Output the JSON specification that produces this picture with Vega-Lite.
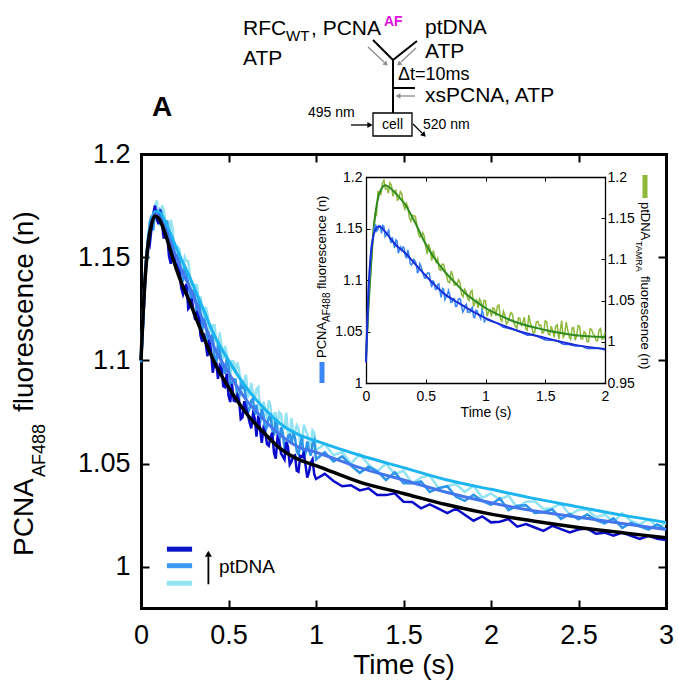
{
"$schema": "https://vega.github.io/schema/vega-lite/v6.json",
"width": 678, "height": 688, "autosize": "none", "padding": 0, "background": "white",
"config": {"font": "Liberation Sans", "view": {"stroke": null},
  "axis": {"grid": false, "labelColor": "black", "titleColor": "black", "tickColor": "black", "domainColor": "black", "titleFontWeight": "normal", "labelFlush": false, "labelOverlap": false, "domainCap": "square"}},
"datasets": {
"d3": [{"t":0,"v":1.100},{"t":0.02,"v":1.138},{"t":0.04,"v":1.162},{"t":0.06,"v":1.166},{"t":0.08,"v":1.175},{"t":0.1,"v":1.168},{"t":0.12,"v":1.175},{"t":0.14,"v":1.167},{"t":0.16,"v":1.161},{"t":0.18,"v":1.164},{"t":0.2,"v":1.154},{"t":0.22,"v":1.154},{"t":0.24,"v":1.144},{"t":0.26,"v":1.148},{"t":0.28,"v":1.141},{"t":0.3,"v":1.1337},{"t":0.32,"v":1.1364},{"t":0.34,"v":1.131},{"t":0.36,"v":1.120},{"t":0.38,"v":1.122},{"t":0.4,"v":1.114},{"t":0.42,"v":1.117},{"t":0.44,"v":1.106},{"t":0.46,"v":1.107},{"t":0.48,"v":1.107},{"t":0.5,"v":1.095},{"t":0.52,"v":1.0996},{"t":0.54,"v":1.0942},{"t":0.56,"v":1.0958},{"t":0.58,"v":1.0864},{"t":0.6,"v":1.093},{"t":0.62,"v":1.084},{"t":0.64,"v":1.084},{"t":0.66,"v":1.086},{"t":0.68,"v":1.077},{"t":0.7,"v":1.080},{"t":0.72,"v":1.0714},{"t":0.74,"v":1.0778},{"t":0.76,"v":1.0742},{"t":0.78,"v":1.0676},{"t":0.8,"v":1.074},{"t":0.82,"v":1.067},{"t":0.84,"v":1.065},{"t":0.86,"v":1.072},{"t":0.88,"v":1.065},{"t":0.9,"v":1.067},{"t":0.92,"v":1.0603},{"t":0.94,"v":1.0665},{"t":0.96,"v":1.0608},{"t":0.98,"v":1.066},{"t":1.0,"v":1.0565},
{"t":0.01,"v":1.121},{"t":0.03,"v":1.143},{"t":0.05,"v":1.166},{"t":0.07,"v":1.168},{"t":0.09,"v":1.1775},{"t":0.11,"v":1.165},{"t":0.13,"v":1.173},{"t":0.15,"v":1.1641},{"t":0.17,"v":1.1681},{"t":0.19,"v":1.154},{"t":0.21,"v":1.155},{"t":0.23,"v":1.1455},{"t":0.25,"v":1.150},{"t":0.27,"v":1.148},{"t":0.29,"v":1.1329},{"t":0.31,"v":1.1366},{"t":0.33,"v":1.1272},{"t":0.35,"v":1.124},{"t":0.37,"v":1.126},{"t":0.39,"v":1.113},{"t":0.41,"v":1.117},{"t":0.43,"v":1.1095},{"t":0.45,"v":1.1135},{"t":0.47,"v":1.1005},{"t":0.49,"v":1.1035},{"t":0.51,"v":1.0928},{"t":0.53,"v":1.0994},{"t":0.55,"v":1.099},{"t":0.57,"v":1.0886},{"t":0.59,"v":1.0902},{"t":0.61,"v":1.082},{"t":0.63,"v":1.089},{"t":0.65,"v":1.081},{"t":0.67,"v":1.087},{"t":0.69,"v":1.075},{"t":0.71,"v":1.0762},{"t":0.73,"v":1.0806},{"t":0.75,"v":1.068},{"t":0.77,"v":1.0744},{"t":0.79,"v":1.0748},{"t":0.81,"v":1.0665},{"t":0.83,"v":1.0745},{"t":0.85,"v":1.0625},{"t":0.87,"v":1.0645},{"t":0.89,"v":1.0685},{"t":0.91,"v":1.0587},{"t":0.93,"v":1.0689},{"t":0.95,"v":1.0642},{"t":0.97,"v":1.0584},{"t":0.99,"v":1.0648},
{"t":1.05,"v":1.0595},{"t":1.1,"v":1.054},{"t":1.15,"v":1.0555},{"t":1.2,"v":1.050},{"t":1.25,"v":1.0545},{"t":1.3,"v":1.0495},{"t":1.35,"v":1.0462},{"t":1.4,"v":1.050},{"t":1.45,"v":1.0448},{"t":1.5,"v":1.0465},{"t":1.55,"v":1.0404},{"t":1.6,"v":1.0433},{"t":1.65,"v":1.0442},{"t":1.7,"v":1.0381},{"t":1.75,"v":1.039},{"t":1.8,"v":1.0401},{"t":1.85,"v":1.0362},{"t":1.9,"v":1.0393},{"t":1.95,"v":1.0334},{"t":2.0,"v":1.0355},{"t":2.05,"v":1.0325},{"t":2.1,"v":1.0345},{"t":2.15,"v":1.0285},{"t":2.2,"v":1.0315},{"t":2.25,"v":1.0317},{"t":2.3,"v":1.028},{"t":2.35,"v":1.0284},{"t":2.4,"v":1.0307},{"t":2.45,"v":1.0251},{"t":2.5,"v":1.0275},{"t":2.55,"v":1.0277},{"t":2.6,"v":1.024},{"t":2.65,"v":1.0253},{"t":2.7,"v":1.0216},{"t":2.75,"v":1.0259},{"t":2.8,"v":1.0222},{"t":2.85,"v":1.0205},{"t":2.9,"v":1.023},{"t":2.95,"v":1.0195},{"t":3.0,"v":1.021}],
"d2": [{"t":0,"v":1.099},{"t":0.02,"v":1.137},{"t":0.04,"v":1.152},{"t":0.06,"v":1.170},{"t":0.08,"v":1.172},{"t":0.1,"v":1.166},{"t":0.12,"v":1.171},{"t":0.14,"v":1.162},{"t":0.16,"v":1.1565},{"t":0.18,"v":1.160},{"t":0.2,"v":1.1495},{"t":0.22,"v":1.148},{"t":0.24,"v":1.1385},{"t":0.26,"v":1.1415},{"t":0.28,"v":1.1325},{"t":0.3,"v":1.1342},{"t":0.32,"v":1.1209},{"t":0.34,"v":1.1225},{"t":0.36,"v":1.1205},{"t":0.38,"v":1.1105},{"t":0.4,"v":1.1115},{"t":0.42,"v":1.1015},{"t":0.44,"v":1.1075},{"t":0.46,"v":1.0985},{"t":0.48,"v":1.0935},{"t":0.5,"v":1.0975},{"t":0.52,"v":1.0891},{"t":0.54,"v":1.0907},{"t":0.56,"v":1.0813},{"t":0.58,"v":1.0869},{"t":0.6,"v":1.0815},{"t":0.62,"v":1.0765},{"t":0.64,"v":1.0815},{"t":0.66,"v":1.0785},{"t":0.68,"v":1.0695},{"t":0.7,"v":1.0735},{"t":0.72,"v":1.0679},{"t":0.74,"v":1.0733},{"t":0.76,"v":1.0637},{"t":0.78,"v":1.0661},{"t":0.8,"v":1.0675},{"t":0.82,"v":1.0575},{"t":0.84,"v":1.0635},{"t":0.86,"v":1.0595},{"t":0.88,"v":1.0625},{"t":0.9,"v":1.0545},{"t":0.92,"v":1.0628},{"t":0.94,"v":1.055},{"t":0.96,"v":1.0563},{"t":0.98,"v":1.0595},{"t":1.0,"v":1.052},
{"t":0.01,"v":1.114},{"t":0.03,"v":1.1455},{"t":0.05,"v":1.167},{"t":0.07,"v":1.163},{"t":0.09,"v":1.1725},{"t":0.11,"v":1.1725},{"t":0.13,"v":1.1625},{"t":0.15,"v":1.1678},{"t":0.17,"v":1.1523},{"t":0.19,"v":1.1507},{"t":0.21,"v":1.1513},{"t":0.23,"v":1.1382},{"t":0.25,"v":1.1455},{"t":0.27,"v":1.1375},{"t":0.29,"v":1.1284},{"t":0.31,"v":1.1311},{"t":0.33,"v":1.1297},{"t":0.35,"v":1.1145},{"t":0.37,"v":1.1175},{"t":0.39,"v":1.1085},{"t":0.41,"v":1.1125},{"t":0.43,"v":1.098},{"t":0.45,"v":1.105},{"t":0.47,"v":1.096},{"t":0.49,"v":1.101},{"t":0.51,"v":1.0883},{"t":0.53,"v":1.0909},{"t":0.55,"v":1.0825},{"t":0.57,"v":1.0881},{"t":0.59,"v":1.0877},{"t":0.61,"v":1.0745},{"t":0.63,"v":1.0805},{"t":0.65,"v":1.0735},{"t":0.67,"v":1.0725},{"t":0.69,"v":1.0765},{"t":0.71,"v":1.0657},{"t":0.73,"v":1.0721},{"t":0.75,"v":1.0665},{"t":0.77,"v":1.0719},{"t":0.79,"v":1.0603},{"t":0.81,"v":1.065},{"t":0.83,"v":1.056},{"t":0.85,"v":1.064},{"t":0.87,"v":1.065},{"t":0.89,"v":1.056},{"t":0.91,"v":1.0592},{"t":0.93,"v":1.0524},{"t":0.95,"v":1.0607},{"t":0.97,"v":1.0539},{"t":0.99,"v":1.0613},
{"t":1.05,"v":1.0555},{"t":1.1,"v":1.051},{"t":1.15,"v":1.0535},{"t":1.2,"v":1.049},{"t":1.25,"v":1.0455},{"t":1.3,"v":1.0485},{"t":1.35,"v":1.0463},{"t":1.4,"v":1.042},{"t":1.45,"v":1.0458},{"t":1.5,"v":1.0405},{"t":1.55,"v":1.0404},{"t":1.6,"v":1.0413},{"t":1.65,"v":1.0362},{"t":1.7,"v":1.0381},{"t":1.75,"v":1.039},{"t":1.8,"v":1.0339},{"t":1.85,"v":1.0319},{"t":1.9,"v":1.0349},{"t":1.95,"v":1.0319},{"t":2.0,"v":1.030},{"t":2.05,"v":1.0332},{"t":2.1,"v":1.0274},{"t":2.15,"v":1.0296},{"t":2.2,"v":1.0298},{"t":2.25,"v":1.026},{"t":2.3,"v":1.0264},{"t":2.35,"v":1.0278},{"t":2.4,"v":1.0232},{"t":2.45,"v":1.0256},{"t":2.5,"v":1.023},{"t":2.55,"v":1.0253},{"t":2.6,"v":1.0226},{"t":2.65,"v":1.021},{"t":2.7,"v":1.0234},{"t":2.75,"v":1.0188},{"t":2.8,"v":1.0212},{"t":2.85,"v":1.0196},{"t":2.9,"v":1.018},{"t":2.95,"v":1.0205},{"t":3.0,"v":1.018}],
"d1": [{"t":0,"v":1.101},{"t":0.02,"v":1.131},{"t":0.04,"v":1.158},{"t":0.06,"v":1.164},{"t":0.08,"v":1.175},{"t":0.1,"v":1.166},{"t":0.12,"v":1.166},{"t":0.14,"v":1.165},{"t":0.16,"v":1.1505},{"t":0.18,"v":1.152},{"t":0.2,"v":1.144},{"t":0.22,"v":1.143},{"t":0.24,"v":1.132},{"t":0.26,"v":1.137},{"t":0.28,"v":1.126},{"t":0.3,"v":1.1237},{"t":0.32,"v":1.1234},{"t":0.34,"v":1.112},{"t":0.36,"v":1.113},{"t":0.38,"v":1.102},{"t":0.4,"v":1.105},{"t":0.42,"v":1.099},{"t":0.44,"v":1.091},{"t":0.46,"v":1.096},{"t":0.48,"v":1.087},{"t":0.5,"v":1.083},{"t":0.52,"v":1.0886},{"t":0.54,"v":1.0802},{"t":0.56,"v":1.0808},{"t":0.58,"v":1.0724},{"t":0.6,"v":1.077},{"t":0.62,"v":1.070},{"t":0.64,"v":1.074},{"t":0.66,"v":1.063},{"t":0.68,"v":1.067},{"t":0.7,"v":1.067},{"t":0.72,"v":1.0594},{"t":0.74,"v":1.0628},{"t":0.76,"v":1.0552},{"t":0.78,"v":1.0626},{"t":0.8,"v":1.055},{"t":0.82,"v":1.052},{"t":0.84,"v":1.058},{"t":0.86,"v":1.051},{"t":0.88,"v":1.054},{"t":0.9,"v":1.046},{"t":0.92,"v":1.0533},{"t":0.94,"v":1.0495},{"t":0.96,"v":1.0458},{"t":0.98,"v":1.052},{"t":1.0,"v":1.0425},
{"t":0.01,"v":1.1155},{"t":0.03,"v":1.1495},{"t":0.05,"v":1.156},{"t":0.07,"v":1.171},{"t":0.09,"v":1.1685},{"t":0.11,"v":1.173},{"t":0.13,"v":1.159},{"t":0.15,"v":1.1603},{"t":0.17,"v":1.1468},{"t":0.19,"v":1.1505},{"t":0.21,"v":1.1475},{"t":0.23,"v":1.135},{"t":0.25,"v":1.135},{"t":0.27,"v":1.125},{"t":0.29,"v":1.1299},{"t":0.31,"v":1.1196},{"t":0.33,"v":1.1232},{"t":0.35,"v":1.109},{"t":0.37,"v":1.108},{"t":0.39,"v":1.110},{"t":0.41,"v":1.094},{"t":0.43,"v":1.0985},{"t":0.45,"v":1.0975},{"t":0.47,"v":1.0875},{"t":0.49,"v":1.0935},{"t":0.51,"v":1.0798},{"t":0.53,"v":1.0804},{"t":0.55,"v":1.083},{"t":0.57,"v":1.0716},{"t":0.59,"v":1.0802},{"t":0.61,"v":1.074},{"t":0.63,"v":1.067},{"t":0.65,"v":1.072},{"t":0.67,"v":1.073},{"t":0.69,"v":1.060},{"t":0.71,"v":1.0652},{"t":0.73,"v":1.0586},{"t":0.75,"v":1.065},{"t":0.77,"v":1.0524},{"t":0.79,"v":1.0608},{"t":0.81,"v":1.0535},{"t":0.83,"v":1.0605},{"t":0.85,"v":1.0495},{"t":0.87,"v":1.0535},{"t":0.89,"v":1.0465},{"t":0.91,"v":1.0537},{"t":0.93,"v":1.0549},{"t":0.95,"v":1.0432},{"t":0.97,"v":1.0504},{"t":0.99,"v":1.0448},
{"t":1.05,"v":1.045},{"t":1.1,"v":1.0415},{"t":1.15,"v":1.039},{"t":1.2,"v":1.0395},{"t":1.25,"v":1.037},{"t":1.3,"v":1.038},{"t":1.35,"v":1.0348},{"t":1.4,"v":1.0347},{"t":1.45,"v":1.0356},{"t":1.5,"v":1.0315},{"t":1.55,"v":1.0314},{"t":1.6,"v":1.0283},{"t":1.65,"v":1.0302},{"t":1.7,"v":1.0281},{"t":1.75,"v":1.026},{"t":1.8,"v":1.0281},{"t":1.85,"v":1.0252},{"t":1.9,"v":1.0223},{"t":1.95,"v":1.0244},{"t":2.0,"v":1.0215},{"t":2.05,"v":1.0218},{"t":2.1,"v":1.0231},{"t":2.15,"v":1.0194},{"t":2.2,"v":1.0207},{"t":2.25,"v":1.019},{"t":2.3,"v":1.0174},{"t":2.35,"v":1.0198},{"t":2.4,"v":1.0182},{"t":2.45,"v":1.0166},{"t":2.5,"v":1.018},{"t":2.55,"v":1.0185},{"t":2.6,"v":1.016},{"t":2.65,"v":1.0165},{"t":2.7,"v":1.015},{"t":2.75,"v":1.0165},{"t":2.8,"v":1.015},{"t":2.85,"v":1.0135},{"t":2.9,"v":1.015},{"t":2.95,"v":1.0135},{"t":3.0,"v":1.013}],
"f1": [{"t":0,"v":1.100},{"t":0.02,"v":1.135},{"t":0.04,"v":1.156},{"t":0.06,"v":1.166},{"t":0.08,"v":1.170},{"t":0.1,"v":1.169},{"t":0.14,"v":1.161},{"t":0.18,"v":1.150},{"t":0.22,"v":1.140},{"t":0.28,"v":1.128},{"t":0.35,"v":1.113},{"t":0.42,"v":1.099},{"t":0.5,"v":1.087},{"t":0.6,"v":1.0745},{"t":0.7,"v":1.065},{"t":0.8,"v":1.057},{"t":0.9,"v":1.052},{"t":1.0,"v":1.049},{"t":1.25,"v":1.041},{"t":1.5,"v":1.0355},{"t":1.75,"v":1.030},{"t":2.0,"v":1.0255},{"t":2.25,"v":1.022},{"t":2.5,"v":1.019},{"t":2.75,"v":1.0165},{"t":3.0,"v":1.014}],
"f2": [{"t":0,"v":1.100},{"t":0.02,"v":1.135},{"t":0.04,"v":1.157},{"t":0.06,"v":1.167},{"t":0.08,"v":1.171},{"t":0.1,"v":1.170},{"t":0.14,"v":1.164},{"t":0.18,"v":1.155},{"t":0.22,"v":1.146},{"t":0.28,"v":1.135},{"t":0.35,"v":1.120},{"t":0.42,"v":1.106},{"t":0.5,"v":1.094},{"t":0.6,"v":1.081},{"t":0.7,"v":1.0715},{"t":0.8,"v":1.0635},{"t":0.9,"v":1.058},{"t":1.0,"v":1.0555},{"t":1.25,"v":1.048},{"t":1.5,"v":1.042},{"t":1.75,"v":1.036},{"t":2.0,"v":1.031},{"t":2.25,"v":1.027},{"t":2.5,"v":1.024},{"t":2.75,"v":1.021},{"t":3.0,"v":1.018}],
"f3": [{"t":0,"v":1.100},{"t":0.02,"v":1.136},{"t":0.04,"v":1.158},{"t":0.06,"v":1.168},{"t":0.08,"v":1.172},{"t":0.1,"v":1.172},{"t":0.14,"v":1.167},{"t":0.18,"v":1.159},{"t":0.22,"v":1.151},{"t":0.28,"v":1.140},{"t":0.35,"v":1.126},{"t":0.42,"v":1.112},{"t":0.5,"v":1.100},{"t":0.6,"v":1.087},{"t":0.7,"v":1.077},{"t":0.8,"v":1.069},{"t":0.9,"v":1.064},{"t":1.0,"v":1.061},{"t":1.25,"v":1.054},{"t":1.5,"v":1.048},{"t":1.75,"v":1.042},{"t":2.0,"v":1.0375},{"t":2.25,"v":1.033},{"t":2.5,"v":1.029},{"t":2.75,"v":1.025},{"t":3.0,"v":1.0215}],
"bd": [{"t":0,"v":1.022},{"t":0.02,"v":1.086},{"t":0.04,"v":1.127},{"t":0.06,"v":1.140},{"t":0.08,"v":1.154},{"t":0.1,"v":1.149},{"t":0.12,"v":1.1525},{"t":0.14,"v":1.153},{"t":0.16,"v":1.142},{"t":0.18,"v":1.146},{"t":0.2,"v":1.140},{"t":0.22,"v":1.1415},{"t":0.24,"v":1.131},{"t":0.26,"v":1.138},{"t":0.28,"v":1.129},{"t":0.3,"v":1.129},{"t":0.32,"v":1.131},{"t":0.34,"v":1.1215},{"t":0.36,"v":1.124},{"t":0.38,"v":1.1145},{"t":0.4,"v":1.120},{"t":0.42,"v":1.1155},{"t":0.44,"v":1.108},{"t":0.46,"v":1.1135},{"t":0.48,"v":1.105},{"t":0.5,"v":1.1015},{"t":0.52,"v":1.107},{"t":0.54,"v":1.098},{"t":0.56,"v":1.099},{"t":0.58,"v":1.091},{"t":0.6,"v":1.0955},{"t":0.62,"v":1.088},{"t":0.64,"v":1.092},{"t":0.66,"v":1.081},{"t":0.68,"v":1.0855},{"t":0.7,"v":1.086},{"t":0.72,"v":1.0785},{"t":0.74,"v":1.082},{"t":0.76,"v":1.0745},{"t":0.78,"v":1.082},{"t":0.8,"v":1.0745},{"t":0.82,"v":1.071},{"t":0.84,"v":1.0765},{"t":0.86,"v":1.069},{"t":0.88,"v":1.072},{"t":0.9,"v":1.064},{"t":0.92,"v":1.0708},{"t":0.94,"v":1.0665},{"t":0.96,"v":1.0623},{"t":0.98,"v":1.068},{"t":1.0,"v":1.061},
{"t":0.01,"v":1.057},{"t":0.03,"v":1.1015},{"t":0.05,"v":1.1365},{"t":0.07,"v":1.1505},{"t":0.09,"v":1.1475},{"t":0.11,"v":1.1528},{"t":0.13,"v":1.1453},{"t":0.15,"v":1.152},{"t":0.17,"v":1.1435},{"t":0.19,"v":1.1485},{"t":0.21,"v":1.1358},{"t":0.23,"v":1.1357},{"t":0.25,"v":1.139},{"t":0.27,"v":1.126},{"t":0.29,"v":1.132},{"t":0.31,"v":1.132},{"t":0.33,"v":1.1228},{"t":0.35,"v":1.1293},{"t":0.37,"v":1.1158},{"t":0.39,"v":1.1163},{"t":0.41,"v":1.1188},{"t":0.43,"v":1.1073},{"t":0.45,"v":1.1158},{"t":0.47,"v":1.1093},{"t":0.49,"v":1.1018},{"t":0.51,"v":1.1063},{"t":0.53,"v":1.1065},{"t":0.55,"v":1.093},{"t":0.57,"v":1.098},{"t":0.59,"v":1.0908},{"t":0.61,"v":1.0963},{"t":0.63,"v":1.083},{"t":0.65,"v":1.091},{"t":0.67,"v":1.0833},{"t":0.69,"v":1.0898},{"t":0.71,"v":1.0783},{"t":0.73,"v":1.0818},{"t":0.75,"v":1.0743},{"t":0.77,"v":1.0808},{"t":0.79,"v":1.0813},{"t":0.81,"v":1.0688},{"t":0.83,"v":1.0753},{"t":0.85,"v":1.0688},{"t":0.87,"v":1.0685},{"t":0.89,"v":1.0735},{"t":0.91,"v":1.0634},{"t":0.93,"v":1.0702},{"t":0.95,"v":1.0649},{"t":0.97,"v":1.0707},{"t":0.99,"v":1.0594}],
"bl": [{"t":1.0,"v":1.062},{"t":1.05,"v":1.0597},{"t":1.1,"v":1.0584},{"t":1.15,"v":1.0541},{"t":1.2,"v":1.0528},{"t":1.25,"v":1.0515},{"t":1.3,"v":1.0489},{"t":1.35,"v":1.0464},{"t":1.4,"v":1.0468},{"t":1.45,"v":1.0443},{"t":1.5,"v":1.0417},{"t":1.55,"v":1.0414},{"t":1.6,"v":1.041},{"t":1.65,"v":1.0377},{"t":1.7,"v":1.0373},{"t":1.75,"v":1.036},{"t":1.8,"v":1.0362},{"t":1.85,"v":1.0334},{"t":1.9,"v":1.0336},{"t":1.95,"v":1.0338},{"t":2.0,"v":1.032}],
"bf": [{"t":0,"v":1.020},{"t":0.02,"v":1.090},{"t":0.04,"v":1.125},{"t":0.06,"v":1.142},{"t":0.08,"v":1.149},{"t":0.1,"v":1.152},{"t":0.12,"v":1.1515},{"t":0.16,"v":1.147},{"t":0.2,"v":1.141},{"t":0.25,"v":1.134},{"t":0.33,"v":1.126},{"t":0.4,"v":1.117},{"t":0.55,"v":1.098},{"t":0.65,"v":1.087},{"t":0.77,"v":1.078},{"t":0.9,"v":1.069},{"t":1.0,"v":1.063},{"t":1.25,"v":1.0515},{"t":1.5,"v":1.0437},{"t":1.75,"v":1.037},{"t":2.0,"v":1.033}],
"gd": [{"t":0,"v":0.980},{"t":0.025,"v":1.058},{"t":0.05,"v":1.105},{"t":0.075,"v":1.155},{"t":0.1,"v":1.182},{"t":0.125,"v":1.179},{"t":0.15,"v":1.196},{"t":0.175,"v":1.1865},{"t":0.2,"v":1.193},{"t":0.225,"v":1.1765},{"t":0.25,"v":1.184},{"t":0.275,"v":1.1735},{"t":0.3,"v":1.1793},{"t":0.325,"v":1.161},{"t":0.35,"v":1.164},{"t":0.375,"v":1.1465},{"t":0.4,"v":1.153},{"t":0.425,"v":1.1425},{"t":0.45,"v":1.127},{"t":0.475,"v":1.1325},{"t":0.5,"v":1.1145},{"t":0.525,"v":1.1185},{"t":0.55,"v":1.0985},{"t":0.575,"v":1.104},{"t":0.6,"v":1.101},{"t":0.625,"v":1.0865},{"t":0.65,"v":1.094},{"t":0.675,"v":1.0795},{"t":0.7,"v":1.0718},{"t":0.725,"v":1.081},{"t":0.75,"v":1.069},{"t":0.775,"v":1.0752},{"t":0.8,"v":1.0575},{"t":0.825,"v":1.064},{"t":0.85,"v":1.0527},{"t":0.875,"v":1.0607},{"t":0.9,"v":1.043},{"t":0.925,"v":1.0505},{"t":0.95,"v":1.052},{"t":0.975,"v":1.0385},{"t":1.0,"v":1.050},{"t":1.025,"v":1.036},{"t":1.05,"v":1.031},{"t":1.075,"v":1.040},{"t":1.1,"v":1.0435},{"t":1.125,"v":1.0277},{"t":1.15,"v":1.0371},{"t":1.175,"v":1.0216},{"t":1.2,"v":1.0301},{"t":1.225,"v":1.0336},{"t":1.25,"v":1.019},{"t":1.275,"v":1.0289},{"t":1.3,"v":1.0199},{"t":1.325,"v":1.0299},{"t":1.35,"v":1.0139},{"t":1.375,"v":1.023},{"t":1.4,"v":1.0101},{"t":1.425,"v":1.0242},{"t":1.45,"v":1.0194},{"t":1.475,"v":1.0105},{"t":1.5,"v":1.0253},{"t":1.525,"v":1.0096},{"t":1.55,"v":1.019},{"t":1.575,"v":1.0053},{"t":1.6,"v":1.0207},{"t":1.625,"v":1.0131},{"t":1.65,"v":1.0055},{"t":1.675,"v":1.0239},{"t":1.7,"v":1.0063},{"t":1.725,"v":1.0167},{"t":1.75,"v":1.002},{"t":1.775,"v":1.0198},{"t":1.8,"v":1.0036},{"t":1.825,"v":1.0123},{"t":1.85,"v":1.0001},{"t":1.875,"v":1.0159},{"t":1.9,"v":1.0097},{"t":1.925,"v":1.0014},{"t":1.95,"v":1.0142},{"t":1.975,"v":1.003},{"t":2.0,"v":1.0118},
{"t":0.0125,"v":1.0195},{"t":0.0375,"v":1.080},{"t":0.0625,"v":1.138},{"t":0.0875,"v":1.1535},{"t":0.1125,"v":1.181},{"t":0.1375,"v":1.1925},{"t":0.1625,"v":1.1853},{"t":0.1875,"v":1.1803},{"t":0.2125,"v":1.1903},{"t":0.2375,"v":1.1828},{"t":0.2625,"v":1.1718},{"t":0.2875,"v":1.1824},{"t":0.3125,"v":1.1662},{"t":0.3375,"v":1.168},{"t":0.3625,"v":1.1508},{"t":0.3875,"v":1.1533},{"t":0.4125,"v":1.1523},{"t":0.4375,"v":1.1318},{"t":0.4625,"v":1.1283},{"t":0.4875,"v":1.128},{"t":0.5125,"v":1.1065},{"t":0.5375,"v":1.1125},{"t":0.5625,"v":1.1108},{"t":0.5875,"v":1.0965},{"t":0.6125,"v":1.0878},{"t":0.6375,"v":1.0943},{"t":0.6625,"v":1.0858},{"t":0.6875,"v":1.0727},{"t":0.7125,"v":1.0859},{"t":0.7375,"v":1.069},{"t":0.7625,"v":1.0711},{"t":0.7875,"v":1.0714},{"t":0.8125,"v":1.0548},{"t":0.8375,"v":1.0614},{"t":0.8625,"v":1.0502},{"t":0.8875,"v":1.0624},{"t":0.9125,"v":1.0478},{"t":0.9375,"v":1.0413},{"t":0.9625,"v":1.0488},{"t":0.9875,"v":1.0503},{"t":1.0125,"v":1.031},{"t":1.0375,"v":1.039},{"t":1.0625,"v":1.041},{"t":1.0875,"v":1.0313},{"t":1.1125,"v":1.0446},{"t":1.1375,"v":1.0249},{"t":1.1625,"v":1.0324},{"t":1.1875,"v":1.0239},{"t":1.2125,"v":1.0354},{"t":1.2375,"v":1.0228},{"t":1.2625,"v":1.0165},{"t":1.2875,"v":1.0284},{"t":1.3125,"v":1.0234},{"t":1.3375,"v":1.0154},{"t":1.3625,"v":1.0325},{"t":1.3875,"v":1.0176},{"t":1.4125,"v":1.0117},{"t":1.4375,"v":1.0248},{"t":1.4625,"v":1.020},{"t":1.4875,"v":1.0119},{"t":1.5125,"v":1.024},{"t":1.5375,"v":1.0083},{"t":1.5625,"v":1.0137},{"t":1.5875,"v":1.019},{"t":1.6125,"v":1.0034},{"t":1.6375,"v":1.0258},{"t":1.6625,"v":1.0082},{"t":1.6875,"v":1.0146},{"t":1.7125,"v":1.003},{"t":1.7375,"v":1.0174},{"t":1.7625,"v":1.0069},{"t":1.7875,"v":1.0187},{"t":1.8125,"v":1.0035},{"t":1.8375,"v":1.0102},{"t":1.8625,"v":1.000},{"t":1.8875,"v":1.0148},{"t":1.9125,"v":1.0076},{"t":1.9375,"v":1.0013},{"t":1.9625,"v":1.0161},{"t":1.9875,"v":1.0039}],
"gf": [{"t":0,"v":0.98},{"t":0.02,"v":1.04},{"t":0.04,"v":1.09},{"t":0.06,"v":1.13},{"t":0.08,"v":1.157},{"t":0.1,"v":1.174},{"t":0.13,"v":1.186},{"t":0.16,"v":1.190},{"t":0.2,"v":1.187},{"t":0.25,"v":1.180},{"t":0.33,"v":1.166},{"t":0.41,"v":1.145},{"t":0.49,"v":1.121},{"t":0.57,"v":1.102},{"t":0.66,"v":1.085},{"t":0.75,"v":1.071},{"t":0.83,"v":1.059},{"t":0.92,"v":1.049},{"t":1.0,"v":1.041},{"t":1.12,"v":1.032},{"t":1.25,"v":1.024},{"t":1.5,"v":1.0143},{"t":1.75,"v":1.008},{"t":2.0,"v":1.0058}]
},
"resolve": {"scale": {"x": "independent", "y": "independent"}, "axis": {"x": "independent", "y": "independent"}},
"layer": [
{
 "encoding": {
  "x": {"field": "t", "type": "quantitative", "scale": {"domain": [0, 3], "range": [141, 666], "nice": false, "zero": false},
        "axis": {"orient": "bottom", "offset": -80, "values": [0, 0.5, 1, 1.5, 2, 2.5, 3], "format": "~g", "labelFontSize": 27, "labelPadding": 22, "tickSize": -8, "tickWidth": 2, "domainWidth": 3, "title": "Time (s)", "titleFontSize": 28, "titleY": 57, "titleBaseline": "middle"}},
  "y": {"field": "v", "type": "quantitative", "scale": {"domain": [0.98, 1.2], "range": [608, 154], "nice": false, "zero": false},
        "axis": {"orient": "left", "offset": -141, "values": [1, 1.05, 1.1, 1.15, 1.2], "format": "~g", "labelFontSize": 27, "labelPadding": 19, "tickSize": -8, "tickWidth": 2, "domainWidth": 3, "title": null}}
 },
 "layer": [
  {"data": {"name": "d3"}, "mark": {"type": "line", "color": "#93E3F2", "strokeWidth": 2.5}},
  {"data": {"name": "d2"}, "mark": {"type": "line", "color": "#2E96EA", "strokeWidth": 2.5}},
  {"data": {"name": "d1"}, "mark": {"type": "line", "color": "#0A0ACC", "strokeWidth": 2.5}},
  {"data": {"name": "f3"}, "mark": {"type": "line", "color": "#1CB5F0", "strokeWidth": 3, "interpolate": "monotone"}},
  {"data": {"name": "f2"}, "mark": {"type": "line", "color": "#4477EE", "strokeWidth": 3, "interpolate": "monotone"}},
  {"data": {"name": "f1"}, "mark": {"type": "line", "color": "#000000", "strokeWidth": 3.5, "interpolate": "monotone"}},
  {"data": {"values": [{"t": 0.148, "t2": 0.292, "v": 1.0085}]}, "mark": {"type": "rule", "color": "#0A14C8", "strokeWidth": 5}, "encoding": {"x2": {"field": "t2"}}},
  {"data": {"values": [{"t": 0.148, "t2": 0.292, "v": 1.0005}]}, "mark": {"type": "rule", "color": "#3D9BF5", "strokeWidth": 5}, "encoding": {"x2": {"field": "t2"}}},
  {"data": {"values": [{"t": 0.148, "t2": 0.292, "v": 0.992}]}, "mark": {"type": "rule", "color": "#92E6F2", "strokeWidth": 5}, "encoding": {"x2": {"field": "t2"}}},
  {"data": {"values": [{"t": 0.385, "v": 0.9915, "v2": 1.005}]}, "mark": {"type": "rule", "color": "black", "strokeWidth": 1.8}, "encoding": {"y2": {"field": "v2"}}},
  {"data": {"values": [{"t": 0.385, "v": 1.0063}]}, "mark": {"type": "point", "shape": "triangle-up", "filled": true, "color": "black", "size": 50, "opacity": 1}},
  {"data": {"values": [{"t": 0.445, "v": 0.9998, "txt": "ptDNA"}]}, "mark": {"type": "text", "fontSize": 19, "align": "left", "baseline": "middle", "color": "black"}, "encoding": {"text": {"field": "txt"}}}
 ]
},
{
 "data": {"name": "f1"}, "mark": {"type": "line", "opacity": 0},
 "encoding": {
  "x": {"field": "t", "type": "quantitative", "scale": {"domain": [0, 3], "range": [141, 666], "nice": false, "zero": false},
        "axis": {"orient": "top", "offset": -154, "values": [0.5, 1, 1.5, 2, 2.5], "labels": false, "tickSize": -8, "tickWidth": 2, "domainWidth": 3, "title": null}},
  "y": {"field": "v", "type": "quantitative", "scale": {"domain": [0.98, 1.2], "range": [608, 154], "nice": false, "zero": false},
        "axis": {"orient": "right", "offset": -12, "values": [1, 1.05, 1.1, 1.15], "labels": false, "tickSize": -8, "tickWidth": 2, "domainWidth": 3, "title": null}}
 }
},
{
 "encoding": {
  "x": {"field": "t", "type": "quantitative", "scale": {"domain": [0, 2], "range": [366, 605], "nice": false, "zero": false},
        "axis": {"orient": "top", "offset": -177, "values": [0.5, 1, 1.5], "labels": false, "tickSize": -4, "tickWidth": 1, "domainWidth": 1.3, "title": null}},
  "y": {"field": "v", "type": "quantitative", "scale": {"domain": [0.95, 1.2], "range": [383, 177], "nice": false, "zero": false},
        "axis": {"orient": "right", "offset": -73, "values": [0.95, 1, 1.05, 1.1, 1.15, 1.2], "format": "~g", "labelFontSize": 14, "labelPadding": 6, "tickSize": -4, "tickWidth": 1, "domainWidth": 1.3, "title": null}}
 },
 "layer": [
  {"data": {"name": "gd"}, "mark": {"type": "line", "color": "#8DB83A", "strokeWidth": 1.5}},
  {"data": {"name": "gf"}, "mark": {"type": "line", "color": "#2E8B1E", "strokeWidth": 2, "interpolate": "monotone"}}
 ]
},
{
 "encoding": {
  "x": {"field": "t", "type": "quantitative", "scale": {"domain": [0, 2], "range": [366, 605], "nice": false, "zero": false},
        "axis": {"orient": "bottom", "offset": -305, "values": [0, 0.5, 1, 1.5, 2], "format": "~g", "labelFontSize": 14, "labelPadding": 10, "tickSize": -4, "tickWidth": 1, "domainWidth": 1.3, "title": "Time (s)", "titleFontSize": 14, "titleY": 29, "titleBaseline": "middle"}},
  "y": {"field": "v", "type": "quantitative", "scale": {"domain": [1, 1.2], "range": [383, 177], "nice": false, "zero": false},
        "axis": {"orient": "left", "offset": -366, "values": [1, 1.05, 1.1, 1.15, 1.2], "format": "~g", "labelFontSize": 14, "labelPadding": 8, "tickSize": -4, "tickWidth": 1, "domainWidth": 1.3, "title": null}}
 },
 "layer": [
  {"data": {"name": "bd"}, "mark": {"type": "line", "color": "#3A86F5", "strokeWidth": 1.5}},
  {"data": {"name": "bl"}, "mark": {"type": "line", "color": "#3060F0", "strokeWidth": 1.5}},
  {"data": {"name": "bf"}, "mark": {"type": "line", "color": "#1A2ED8", "strokeWidth": 2, "interpolate": "monotone"}}
 ]
},
{
 "encoding": {
  "x": {"field": "px", "type": "quantitative", "scale": {"domain": [0, 678], "range": [0, 678], "nice": false, "zero": false}, "axis": null},
  "y": {"field": "py", "type": "quantitative", "scale": {"domain": [0, 688], "range": [0, 688], "nice": false, "zero": false}, "axis": null}
 },
 "layer": [
  {"data": {"values": [{"px": 373, "py": 113, "px2": 412, "py2": 136}]}, "mark": {"type": "rect", "fill": "white", "stroke": "black", "strokeWidth": 1.3}, "encoding": {"x2": {"field": "px2"}, "y2": {"field": "py2"}}},
  {"data": {"values": [{"px": 373, "py": 40, "px2": 393, "py2": 60}, {"px": 417, "py": 41, "px2": 393, "py2": 60}, {"px": 393, "py": 60, "px2": 393, "py2": 113}, {"px": 393, "py": 88, "px2": 415, "py2": 88}]}, "mark": {"type": "rule", "color": "black", "strokeWidth": 2}, "encoding": {"x2": {"field": "px2"}, "y2": {"field": "py2"}}},
  {"data": {"values": [{"px": 351, "py": 125, "px2": 368, "py2": 125}, {"px": 413, "py": 124, "px2": 422, "py2": 133}]}, "mark": {"type": "rule", "color": "black", "strokeWidth": 1.3}, "encoding": {"x2": {"field": "px2"}, "y2": {"field": "py2"}}},
  {"data": {"values": [{"px": 368, "py": 47, "px2": 384, "py2": 62}, {"px": 416, "py": 48, "px2": 401, "py2": 62}, {"px": 415, "py": 96, "px2": 400, "py2": 96}]}, "mark": {"type": "rule", "color": "#8C8C8C", "strokeWidth": 1.3}, "encoding": {"x2": {"field": "px2"}, "y2": {"field": "py2"}}},
  {"data": {"values": [{"px": 386, "py": 64, "a": 133}, {"px": 399, "py": 64, "a": 227}, {"px": 398, "py": 96, "a": 270}]}, "mark": {"type": "point", "shape": "triangle-up", "filled": true, "color": "#8C8C8C", "size": 30, "opacity": 1}, "encoding": {"angle": {"field": "a", "type": "quantitative", "scale": null}}},
  {"data": {"values": [{"px": 370, "py": 125, "a": 90}, {"px": 424, "py": 135, "a": 135}]}, "mark": {"type": "point", "shape": "triangle-up", "filled": true, "color": "black", "size": 36, "opacity": 1}, "encoding": {"angle": {"field": "a", "type": "quantitative", "scale": null}}},
  {"data": {"values": [{"px": 243, "py": 35, "txt": "RFC"}, {"px": 311, "py": 35, "txt": ", PCNA"}, {"px": 425, "py": 34, "txt": "ptDNA"}, {"px": 243, "py": 65, "txt": "ATP"}, {"px": 425, "py": 58, "txt": "ATP"}, {"px": 425, "py": 102, "txt": "xsPCNA, ATP"}]}, "mark": {"type": "text", "fontSize": 21, "align": "left", "baseline": "alphabetic", "color": "black"}, "encoding": {"text": {"field": "txt"}}},
  {"data": {"values": [{"px": 398, "py": 80, "txt": "Δt=10ms"}]}, "mark": {"type": "text", "fontSize": 18, "align": "left", "baseline": "alphabetic", "color": "black"}, "encoding": {"text": {"field": "txt"}}},
  {"data": {"values": [{"px": 286, "py": 41, "txt": "WT"}]}, "mark": {"type": "text", "fontSize": 15, "align": "left", "baseline": "alphabetic", "color": "black"}, "encoding": {"text": {"field": "txt"}}},
  {"data": {"values": [{"px": 384, "py": 26, "txt": "AF"}]}, "mark": {"type": "text", "fontSize": 14, "fontWeight": "bold", "align": "left", "baseline": "alphabetic", "color": "#E010E0"}, "encoding": {"text": {"field": "txt"}}},
  {"data": {"values": [{"px": 308, "py": 117, "txt": "495 nm"}, {"px": 423, "py": 129, "txt": "520 nm"}]}, "mark": {"type": "text", "fontSize": 14, "align": "left", "baseline": "alphabetic", "color": "black"}, "encoding": {"text": {"field": "txt"}}},
  {"data": {"values": [{"px": 392.5, "py": 124.5, "txt": "cell"}]}, "mark": {"type": "text", "fontSize": 14, "align": "center", "baseline": "middle", "color": "black"}, "encoding": {"text": {"field": "txt"}}},
  {"data": {"values": [{"px": 152, "py": 116, "txt": "A"}]}, "mark": {"type": "text", "fontSize": 28, "fontWeight": "bold", "align": "left", "baseline": "alphabetic", "color": "black"}, "encoding": {"text": {"field": "txt"}}},
  {"data": {"values": [{"px": 25, "py": 556, "txt": "PCNA"}, {"px": 25, "py": 412, "txt": "fluorescence (n)"}]}, "mark": {"type": "text", "fontSize": 28, "angle": 270, "align": "left", "baseline": "middle", "color": "black"}, "encoding": {"text": {"field": "txt"}}},
  {"data": {"values": [{"px": 40, "py": 477, "txt": "AF488"}]}, "mark": {"type": "text", "fontSize": 18, "angle": 270, "align": "left", "baseline": "middle", "color": "black"}, "encoding": {"text": {"field": "txt"}}},
  {"data": {"values": [{"px": 322, "py": 358, "txt": "PCNA"}, {"px": 322, "py": 289, "txt": "fluorescence (n)"}]}, "mark": {"type": "text", "fontSize": 13, "angle": 270, "align": "left", "baseline": "middle", "color": "black"}, "encoding": {"text": {"field": "txt"}}},
  {"data": {"values": [{"px": 327, "py": 322, "txt": "AF488"}]}, "mark": {"type": "text", "fontSize": 10, "angle": 270, "align": "left", "baseline": "middle", "color": "black"}, "encoding": {"text": {"field": "txt"}}},
  {"data": {"values": [{"px": 645, "py": 202, "txt": "ptDNA"}, {"px": 645, "py": 276, "txt": "fluorescence (n)"}]}, "mark": {"type": "text", "fontSize": 13, "angle": 90, "align": "left", "baseline": "middle", "color": "black"}, "encoding": {"text": {"field": "txt"}}},
  {"data": {"values": [{"px": 639, "py": 241, "txt": "TAMRA"}]}, "mark": {"type": "text", "fontSize": 9, "angle": 90, "align": "left", "baseline": "middle", "color": "black"}, "encoding": {"text": {"field": "txt"}}},
  {"data": {"values": [{"px": 322, "py": 362, "py2": 383}]}, "mark": {"type": "rule", "color": "#3A86F5", "strokeWidth": 5}, "encoding": {"y2": {"field": "py2"}}},
  {"data": {"values": [{"px": 645, "py": 175, "py2": 198}]}, "mark": {"type": "rule", "color": "#8DB83A", "strokeWidth": 5}, "encoding": {"y2": {"field": "py2"}}}
 ]
}
]
}
